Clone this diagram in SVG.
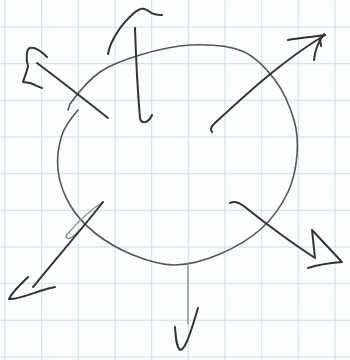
<svg xmlns="http://www.w3.org/2000/svg" width="350" height="360" viewBox="0 0 350 360">
<style>
.grid line{stroke:#c2e1ed;stroke-width:1}
.ink{fill:none;stroke:#333;stroke-width:2;stroke-linecap:round;stroke-linejoin:round}
.soft{fill:none;stroke:#555;stroke-width:1.6;stroke-linecap:round;stroke-linejoin:round}
.light{fill:none;stroke:#8e8e8e;stroke-width:1.4;stroke-linecap:round;stroke-linejoin:round}
</style>
<rect width="350" height="360" fill="#fcfdfd"/>
<g class="grid">
<line x1="5" y1="0" x2="5" y2="360"/><line x1="41.7" y1="0" x2="41.7" y2="360"/><line x1="78.3" y1="0" x2="78.3" y2="360"/><line x1="115" y1="0" x2="115" y2="360"/><line x1="151.7" y1="0" x2="151.7" y2="360"/><line x1="188.3" y1="0" x2="188.3" y2="360"/><line x1="225" y1="0" x2="225" y2="360"/><line x1="261.7" y1="0" x2="261.7" y2="360"/><line x1="298.3" y1="0" x2="298.3" y2="360"/><line x1="335" y1="0" x2="335" y2="360"/>
<line x1="0" y1="27" x2="350" y2="27"/><line x1="0" y1="63.7" x2="350" y2="63.7"/><line x1="0" y1="100.3" x2="350" y2="100.3"/><line x1="0" y1="137" x2="350" y2="137"/><line x1="0" y1="173.7" x2="350" y2="173.7"/><line x1="0" y1="210.3" x2="350" y2="210.3"/><line x1="0" y1="247" x2="350" y2="247"/><line x1="0" y1="283.7" x2="350" y2="283.7"/><line x1="0" y1="320.3" x2="350" y2="320.3"/><line x1="0" y1="357" x2="350" y2="357"/>
</g>
<g id="circle">
<path class="soft" d="M68,110 L70,104 C76.3,95.2 88.3,80.2 100,72 C111.7,63.8 125,59.5 140,55 C155,50.5 173,45.7 190,45 C207,44.3 227.8,45.2 242,51 C256.2,56.8 266.3,68.5 275,80 C283.7,91.5 290.3,107.5 294,120 C297.7,132.5 298,143 297,155 C296,167 293.8,179.8 288,192 C282.2,204.2 273.3,217.7 262,228 C250.7,238.3 234.5,247.8 220,254 C205.5,260.2 189.5,264.8 175,265 C160.5,265.2 146.3,260.3 133,255 C119.7,249.7 105.5,241.3 95,233 C84.5,224.7 76.2,215.5 70,205 C63.8,194.5 59.3,181.7 58,170 C56.7,158.3 58.7,145 62,135 C65.3,125 73.7,115 78,110"/>
</g>
<g id="connectors">
<g id="arrow-top-left">
<path class="ink" d="M108,118 C85,100 60,80 37,63"/>
<path class="ink" d="M47,57 C40,50 34,47 30,48 C26,49 26,60 28,66 C27,72 24,78 23,82 L30,83 C35,85 39,87 42,88"/>
</g>
<g id="arrow-top">
<path class="ink" d="M135,28 C136,60 138,95 140,118 C141,124 148,124 152,115"/>
<path class="ink" d="M108,54 C110,42 120,25 134,13 C140,8 144,7 150,12 C154,15 158,15 162,15"/>
</g>
<g id="arrow-top-right">
<path class="ink" d="M212,132 C210,130 211,126 215,123 C240,100 280,62 325,35"/>
<path class="ink" d="M288,40 C300,38 312,37 325,35 M324,34 C318,42 315,50 314,60 M320,38 L321,46"/>
</g>
<g id="arrow-bottom-right">
<path class="ink" d="M230,203 C235,200 240,203 245,207 C270,227 295,245 315,258 L312,230 L342,262 C330,263 320,264 308,268"/>
</g>
<g id="arrow-bottom">
<path class="light" d="M188,263 L188,324"/>
<path class="ink" d="M175,327 C176,338 176,346 180,350 C184,350 188,342 198,308"/>
</g>
<g id="arrow-bottom-left">
<path class="light" d="M103,202 C90,210 75,225 66,236 C67,240 70,240 80,230"/>
<path class="ink" d="M103,202 C85,225 55,260 33,287"/>
<path class="ink" d="M28,277 C20,285 12,292 9,299 C15,300 25,296 40,291 C46,289 50,288 55,287"/>
</g>
</g>
</svg>
